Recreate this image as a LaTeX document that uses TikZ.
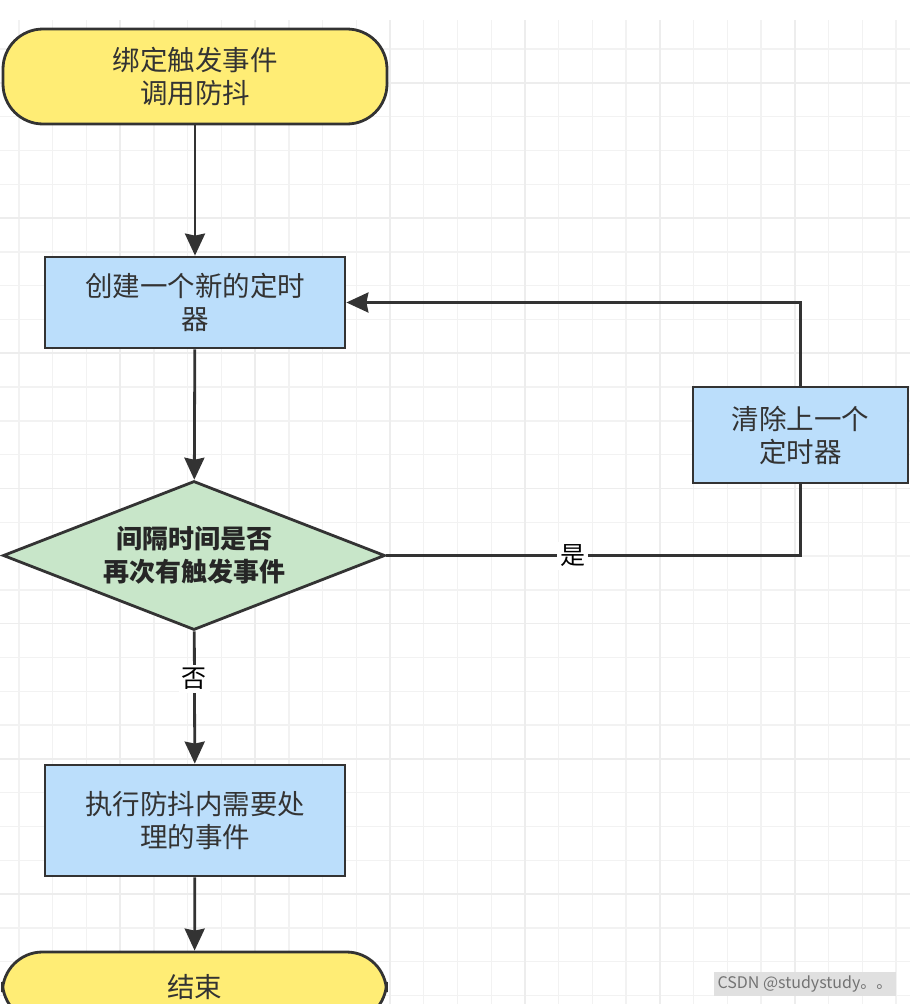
\documentclass[tikz,border=0pt]{standalone}
\usepackage{fontspec}
\setmainfont{Noto Sans CJK SC}
\usetikzlibrary{shapes.geometric,arrows.meta}
\definecolor{termyellow}{HTML}{FFED75}
\definecolor{procblue}{HTML}{BBDEFB}
\definecolor{decgreen}{HTML}{C8E6C9}
\definecolor{edgegray}{HTML}{333333}
\begin{document}
\begin{tikzpicture}[x=1pt, y=-1pt,
	base/.style={draw=edgegray, line width=2.8pt, text=edgegray, align=center, inner sep=0pt, font=\fontsize{27.5}{33}\selectfont},
	terminal/.style={base, fill=termyellow, rounded corners=40pt, minimum width=384pt},
	process/.style={base, fill=procblue, minimum width=300pt},
	decision/.style={base, diamond, fill=decgreen, minimum width=382pt, minimum height=149pt, aspect=2.56, text=black!85, font=\fontsize{26}{33}\selectfont\bfseries},
	arrow/.style={draw=edgegray, line width=2.8pt, -{Stealth[length=22pt, width=20pt, inset=2pt]}},
	line/.style={draw=edgegray, line width=2.8pt},
	label/.style={fill=white, text=black, inner sep=3pt, font=\fontsize{25}{25}\selectfont}]
	\useasboundingbox (0, 0) rectangle (910, 1004);
	\fill[white] (0, 0) rectangle (910, 1004);
	
	% grid
	\begin{scope}
		\clip (0, 20) rectangle (910, 1004);
		\foreach \i in {0,...,26} {
			\draw[black!5, line width=1.4pt] ({19 + 33.73*\i}, 20) -- ({19 + 33.73*\i}, 1004);
		}
		\foreach \i in {0,...,28} {
			\draw[black!5, line width=1.4pt] (0, {49 + 33.8*\i}) -- (910, {49 + 33.8*\i});
		}
		\foreach \i in {0,...,6} {
			\draw[black!7, line width=1.6pt] ({120.2 + 134.92*\i}, 20) -- ({120.2 + 134.92*\i}, 1004);
			\draw[black!7, line width=1.6pt] (0, {82.7 + 135.2*\i}) -- (910, {82.7 + 135.2*\i});
		}
	\end{scope}
	
	\node[terminal, minimum height=95pt] (start) at (195, 76.5) {绑定触发事件\\调用防抖};
	\node[process, minimum height=91pt] (create) at (195, 302.5) {创建一个新的定时\\器};
	\node[decision] (check) at (194, 555.5) {间隔时间是否\\再次有触发事件};
	\node[process, minimum height=111pt] (run) at (195, 820.5) {执行防抖内需要处\\理的事件};
	\node[terminal, minimum height=70pt] (end) at (194.5, 987) {结束};
	\node[process, minimum width=215pt, minimum height=96pt] (clear) at (800.5, 435) {清除上一个\\定时器};
	
	\draw[arrow] (start) -- (create);
	\draw[arrow] (create) -- (check);
	\draw[arrow] (check) -- node[label, pos=0.36] {否} (run);
	\draw[arrow] (run) -- (end);
	\draw[line] (check.east) -| node[label, pos=0.225] {是} (clear.south);
	\draw[arrow] (clear.north) |- (create.east);
	
	% watermark
	\node[fill=black!12, text=black!55, inner sep=4pt, font=\fontsize{16}{16}\selectfont] (mark) at (805, 984) {CSDN @studystudy。。};
\end{tikzpicture}
\end{document}
